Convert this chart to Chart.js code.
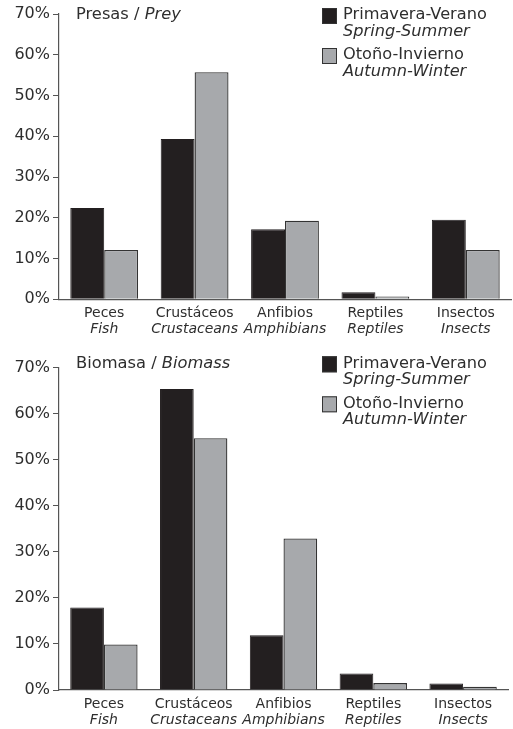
<!DOCTYPE html>
<html lang="es">
<head>
    <meta charset="UTF-8">
    <title>Presas / Biomasa</title>
    <script src="https://cdn.jsdelivr.net/npm/chart.js"></script>
    <style>
        body { margin: 0; background: #fff; }
        .wrap { position: relative; width: 513px; height: 729px; }
        canvas { position: absolute; left: 0; }
    </style>
</head>
<body>
<div class="wrap">
    <canvas id="preyChart" width="513" height="340" style="top:0"></canvas>
    <canvas id="biomassChart" width="513" height="384" style="top:345px"></canvas>
</div>

<script>
    // Data (percent)
    const categoriesEs = ['Peces', 'Crustáceos', 'Anfibios', 'Reptiles', 'Insectos'];
    const categoriesEn = ['Fish', 'Crustaceans', 'Amphibians', 'Reptiles', 'Insects'];
    const preySpring = [22.4, 39.3, 17.2, 1.7, 19.5];
    const preyAutumn = [12.1, 55.7, 19.3, 0.7, 12.1];
    const biomassSpring = [17.9, 65.4, 11.9, 3.6, 1.4];
    const biomassAutumn = [9.9, 54.7, 32.9, 1.5, 0.7];
    const seriesEs = ['Primavera-Verano', 'Otoño-Invierno'];
    const seriesEn = ['Spring-Summer', 'Autumn-Winter'];
    const yMax = 70, yStep = 10;

    const FONT = "'DejaVu Sans', Verdana, sans-serif";
    const TEXT = '#2e2e2e';
    const DARK = '#231f20';
    const GREY = '#a7a9ac';

    // draws title, legend and two-line category labels
    const decorPlugin = {
        id: 'decor',
        afterDraw(chart, args, opts) {
            const ctx = chart.ctx;
            const x = chart.scales.x;
            ctx.save();
            ctx.fillStyle = TEXT;
            ctx.textBaseline = 'middle';

            // category labels
            ctx.textAlign = 'center';
            categoriesEs.forEach((c, i) => {
                const px = x.getPixelForValue(i);
                ctx.font = '14px ' + FONT;
                ctx.fillText(c, px, chart.chartArea.bottom + opts.labelY);
                ctx.font = 'italic 14px ' + FONT;
                ctx.fillText(categoriesEn[i], px, chart.chartArea.bottom + opts.labelY + 16);
            });

            // title
            ctx.textAlign = 'left';
            ctx.font = '16.3px ' + FONT;
            ctx.fillText(opts.titleEs + ' / ', 76, opts.top);
            const w = ctx.measureText(opts.titleEs + ' / ').width;
            ctx.font = 'italic 16.3px ' + FONT;
            ctx.fillText(opts.titleEn, 76 + w, opts.top);

            // legend
            const colors = [DARK, GREY];
            seriesEs.forEach((s, i) => {
                const y = opts.top + i * 40;
                ctx.fillStyle = colors[i];
                ctx.fillRect(322, y - 7, 15, 16);
                ctx.strokeStyle = '#333';
                ctx.lineWidth = 1;
                ctx.strokeRect(322.5, y - 6.5, 14, 15);
                ctx.fillStyle = TEXT;
                ctx.font = '16.2px ' + FONT;
                ctx.fillText(s, 343, y);
                ctx.font = 'italic 16.2px ' + FONT;
                ctx.fillText(seriesEn[i], 343, y + 16.5);
            });
            ctx.restore();
        }
    };

    function makeChart(id, spring, autumn, cfg) {
        new Chart(document.getElementById(id), {
            type: 'bar',
            data: {
                labels: categoriesEs,
                datasets: [
                    { label: seriesEs[0], data: spring, backgroundColor: DARK, borderColor: DARK, borderWidth: 1 },
                    { label: seriesEs[1], data: autumn, backgroundColor: GREY, borderColor: '#333', borderWidth: 1.3 }
                ]
            },
            options: {
                responsive: false,
                animation: false,
                layout: { padding: { top: cfg.padTop, right: cfg.padRight, bottom: 0, left: 0 } },
                datasets: { bar: { categoryPercentage: 0.75, barPercentage: 1 } },
                plugins: {
                    legend: { display: false },
                    tooltip: { enabled: false },
                    decor: { titleEs: cfg.titleEs, titleEn: cfg.titleEn, top: cfg.textTop, labelY: 14 }
                },
                scales: {
                    x: {
                        grid: { display: false },
                        border: { display: true, color: '#555', width: 1.2 },
                        ticks: { display: false },
                        afterFit(scale) { scale.height = cfg.xHeight; }
                    },
                    y: {
                        min: 0,
                        max: yMax,
                        ticks: {
                            stepSize: yStep,
                            padding: 3,
                            color: TEXT,
                            font: { family: FONT, size: 16 },
                            callback: v => v + '%'
                        },
                        grid: { drawOnChartArea: false, drawTicks: true, tickLength: 6, color: '#555' },
                        border: { display: true, color: '#555', width: 1.2 },
                        afterFit(scale) { scale.width = 59; }
                    }
                }
            },
            plugins: [decorPlugin]
        });
    }

    makeChart('preyChart', preySpring, preyAutumn, {
        titleEs: 'Presas', titleEn: 'Prey',
        padTop: 14, padRight: 2, xHeight: 40.7, textTop: 15
    });
    makeChart('biomassChart', biomassSpring, biomassAutumn, {
        titleEs: 'Biomasa', titleEn: 'Biomass',
        padTop: 22.7, padRight: 5, xHeight: 39, textTop: 18.3
    });
</script>
</body>
</html>
